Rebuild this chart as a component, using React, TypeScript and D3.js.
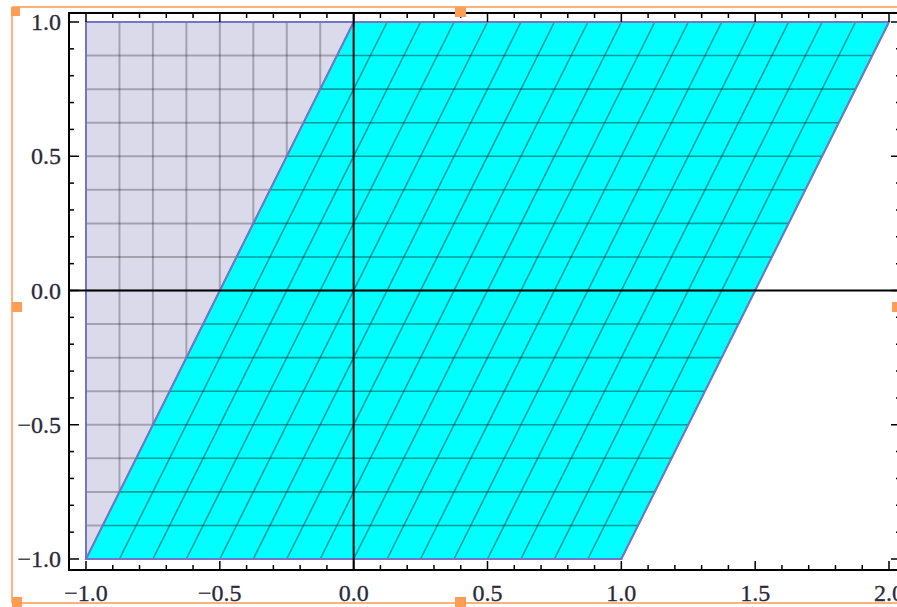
// Sheared square plot (Mathematica-style) drawn with D3 scales
import * as d3 from 'd3';

const squareCorners: [number, number][] = [[-1, -1], [1, -1], [1, 1], [-1, 1]];
const shearedCorners: [number, number][] = [[-1, -1], [1, -1], [2, 1], [0, 1]];
const meshValues = [-1, -0.875, -0.75, -0.625, -0.5, -0.375, -0.25, -0.125, 0,
  0.125, 0.25, 0.375, 0.5, 0.625, 0.75, 0.875, 1];
const shearedTopX = [0, 0.125, 0.25, 0.375, 0.5, 0.625, 0.75, 0.875, 1,
  1.125, 1.25, 1.375, 1.5, 1.625, 1.75, 1.875, 2];
const xMajor = [-1, -0.5, 0, 0.5, 1, 1.5, 2];
const xLabels = ['\u22121.0', '\u22120.5', '0.0', '0.5', '1.0', '1.5', '2.0'];
const yMajor = [-1, -0.5, 0, 0.5, 1];
const yLabels = ['\u22121.0', '\u22120.5', '0.0', '0.5', '1.0'];

const W = 897, H = 607;
const frame = { left: 69, top: 13, right: 901, bottom: 570 };
const orange = '#ff9d55';

const App = () => {
  const x = d3.scaleLinear().domain([-1, 2]).range([86, 889]);
  const y = d3.scaleLinear().domain([-1, 1]).range([559, 22]);
  const poly = d3.line<[number, number]>().x(d => x(d[0])).y(d => y(d[1]));

  const xMinor = x.ticks(30);
  const yMinor = y.ticks(20);

  return (
    <svg width={W} height={H} style={{ position: 'absolute', left: 0, top: 0, background: '#fff' }}
      fontFamily="'Liberation Serif', 'DejaVu Serif', serif">
      {/* base square */}
      <path d={poly(squareCorners) + 'Z'} fill="#dadaeb" />
      <g stroke="#000" strokeOpacity={0.25} strokeWidth={2}>
        {meshValues.map((m, i) => (
          <line key={'sv' + i} x1={x(m)} x2={x(m)} y1={y(-1)} y2={y(1)} />
        ))}
        {meshValues.map((m, i) => (
          <line key={'sh' + i} x1={x(-1)} x2={x(1)} y1={y(m)} y2={y(m)} />
        ))}
      </g>
      <path d={poly(squareCorners) + 'Z'} fill="none" stroke="#7474c8" strokeWidth={2} />

      {/* sheared image */}
      <path d={poly(shearedCorners) + 'Z'} fill="#00ffff" />
      <g stroke="#004848" strokeOpacity={0.55} strokeWidth={1.6}>
        {meshValues.map((m, i) => (
          <line key={'cv' + i} x1={x(m)} x2={x(shearedTopX[i])} y1={y(-1)} y2={y(1)} />
        ))}
        {meshValues.map((m, i) => {
          const t = (m + 1) / 2;
          return (
            <line key={'ch' + i} x1={x(-1 + t)} x2={x(1 + t)} y1={y(m)} y2={y(m)} />
          );
        })}
      </g>
      <path d={poly(shearedCorners) + 'Z'} fill="none" stroke="#7474c8" strokeWidth={2} />

      {/* axes through origin */}
      <line x1={frame.left} x2={W} y1={y(0)} y2={y(0)} stroke="#000" strokeWidth={2} />
      <line x1={x(0)} x2={x(0)} y1={frame.top} y2={frame.bottom} stroke="#000" strokeWidth={2} />

      {/* frame */}
      <rect x={frame.left} y={frame.top} width={frame.right - frame.left} height={frame.bottom - frame.top}
        fill="none" stroke="#000" strokeWidth={2} />
      <g stroke="#000" strokeWidth={1.5}>
        {xMinor.map((v, i) => {
          const major = xMajor.some(m => Math.abs(m - v) < 1e-9);
          const len = major ? 9 : 5;
          return (
            <g key={'xt' + i}>
              <line x1={x(v)} x2={x(v)} y1={frame.bottom} y2={frame.bottom - len} />
              <line x1={x(v)} x2={x(v)} y1={frame.top} y2={frame.top + len} />
            </g>
          );
        })}
        {yMinor.map((v, i) => {
          const major = yMajor.some(m => Math.abs(m - v) < 1e-9);
          const len = major ? 10 : 5;
          return (
            <g key={'yt' + i}>
              <line x1={frame.left} x2={frame.left + len} y1={y(v)} y2={y(v)} />
              <line x1={frame.right} x2={frame.right - len} y1={y(v)} y2={y(v)} />
            </g>
          );
        })}
      </g>
      <g fontSize={24} fill="#2a2a3a" stroke="#2a2a3a" strokeWidth={0.3}>
        {xMajor.map((v, i) => (
          <text key={'xl' + i} x={x(v)} y={601} textAnchor="middle">{xLabels[i]}</text>
        ))}
        {yMajor.map((v, i) => (
          <text key={'yl' + i} x={61} y={y(v) + 8} textAnchor="end">{yLabels[i]}</text>
        ))}
      </g>

      {/* selection frame */}
      <g fill="none" stroke="#ffb27a" strokeWidth={2}>
        <line x1={12} x2={W} y1={7} y2={7} />
        <line x1={12} x2={W} y1={603} y2={603} />
        <line x1={12} x2={12} y1={7} y2={603} />
      </g>
      <g fill={orange}>
        <rect x={11} y={7} width={9} height={9} />
        <rect x={455} y={7} width={11} height={10} />
        <rect x={12} y={302} width={10} height={10} />
        <rect x={12} y={597} width={10} height={10} />
        <rect x={455} y={597} width={11} height={10} />
        <rect x={892} y={302} width={5} height={10} />
      </g>
    </svg>
  );
};

export default App;
